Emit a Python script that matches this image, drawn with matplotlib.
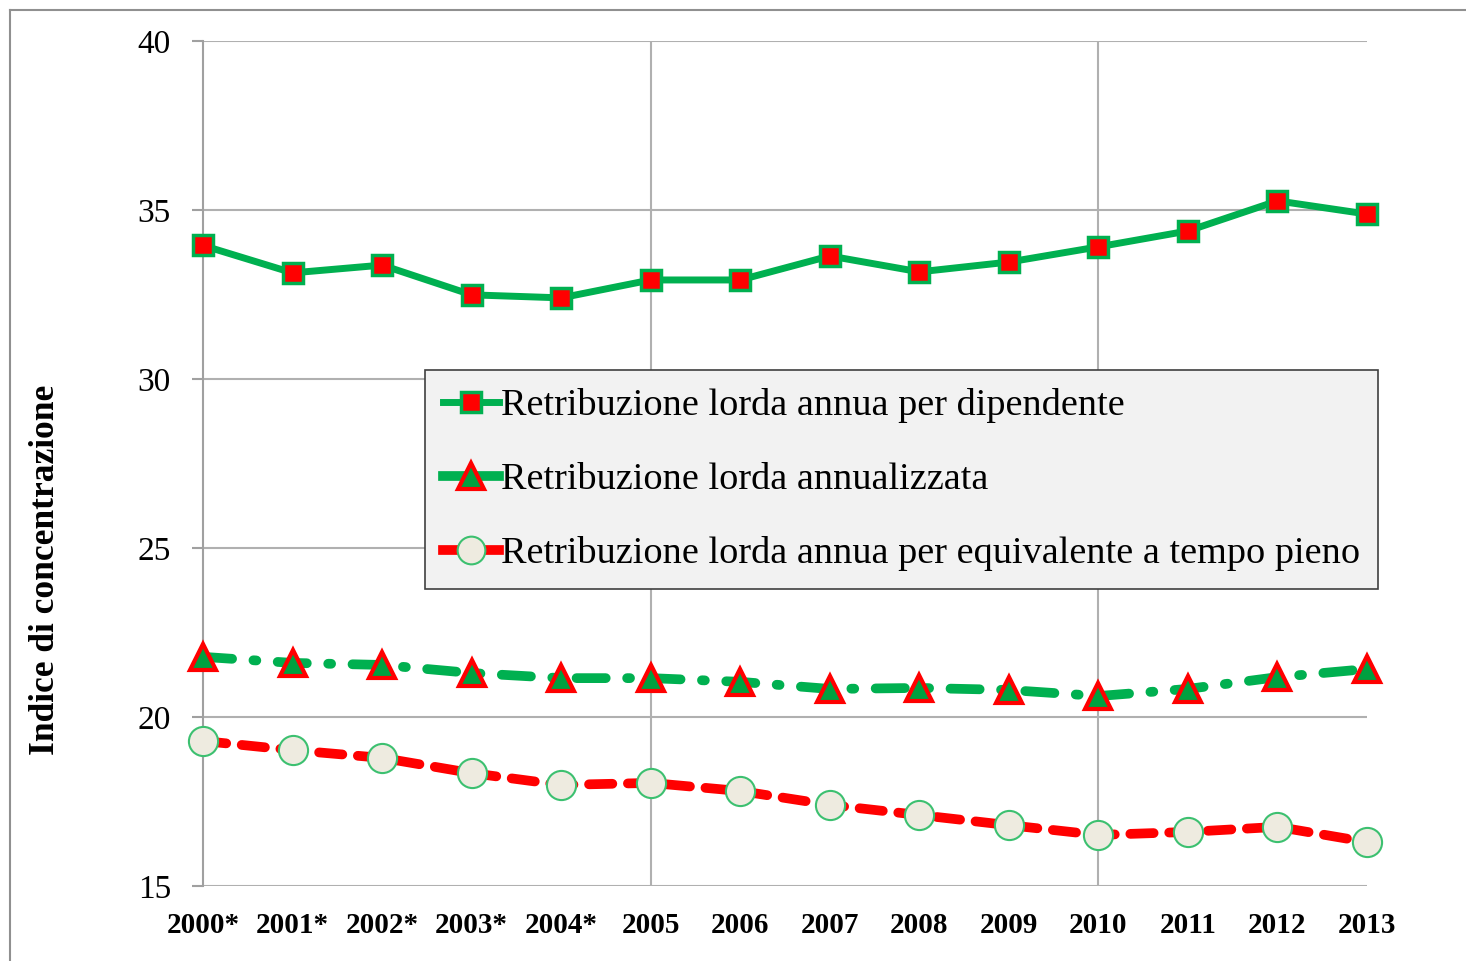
import matplotlib
matplotlib.use("Agg")
import matplotlib.pyplot as plt
from matplotlib.lines import Line2D

plt.rcParams['font.family'] = ['Liberation Serif', 'DejaVu Serif']

# Data
years = ['2000*', '2001*', '2002*', '2003*', '2004*', '2005', '2006',
         '2007', '2008', '2009', '2010', '2011', '2012', '2013']
per_dipendente = [33.95, 33.14, 33.37, 32.49, 32.40, 32.93, 32.93,
                  33.64, 33.17, 33.46, 33.91, 34.38, 35.27, 34.88]
annualizzata = [21.78, 21.60, 21.54, 21.30, 21.15, 21.15, 21.04,
                20.83, 20.86, 20.80, 20.62, 20.83, 21.18, 21.42]
tempo_pieno = [19.29, 19.02, 18.79, 18.34, 17.99, 18.05, 17.81,
               17.40, 17.10, 16.80, 16.51, 16.60, 16.75, 16.30]
labels = ['Retribuzione lorda annua per dipendente',
          'Retribuzione lorda annualizzata',
          'Retribuzione lorda annua per equivalente a tempo pieno']

green = '#00b050'
red = '#ff0000'

W, H = 1466, 961
fig = plt.figure(figsize=(W / 100, H / 100), dpi=100)
ax = fig.add_axes([203 / W, 1 - 886 / H, (1367 - 203) / W, (886 - 41) / H])

x = list(range(len(years)))

ax.plot(x, per_dipendente, color=green, lw=5, marker='s', markersize=15,
        markerfacecolor=red, markeredgecolor=green, markeredgewidth=2.5,
        label=labels[0], zorder=4, clip_on=False)
ax.plot(x, annualizzata, color=green, lw=7, dashes=(3.0, 2.2, 0.3, 2.2),
        dash_capstyle='round', marker='^', markersize=19,
        markerfacecolor='#00a040', markeredgecolor=red, markeredgewidth=3,
        label=labels[1], zorder=4, clip_on=False)
ax.plot(x, tempo_pieno, color=red, lw=7, dashes=(2.4, 1.6),
        dash_capstyle='round', marker='o', markersize=21,
        markerfacecolor='#eeebe0', markeredgecolor='#3cc070', markeredgewidth=1.5,
        label=labels[2], zorder=4, clip_on=False)

ax.set_xlim(0, 13)
ax.set_ylim(15, 40)
ax.set_yticks([15, 20, 25, 30, 35, 40])
ax.set_xticks(x)
ax.set_xticklabels(years, fontsize=21, fontweight='bold')
for t in ax.get_yticklabels():
    t.set_fontsize(24)

# gridlines: horizontal every 5, vertical at 2000, 2005, 2010
ax.grid(axis='y', color='#b0b0b0', lw=1.5)
for xv in [5, 10]:
    ax.axvline(xv, color='#b0b0b0', lw=1.5, zorder=1)
ax.set_axisbelow(True)

for side in ['top', 'right', 'bottom']:
    ax.spines[side].set_visible(False)
ax.spines['left'].set_color('#a0a0a0')
ax.spines['left'].set_linewidth(1.5)
ax.tick_params(axis='y', length=8, width=1.5, color='#a0a0a0', pad=15)
ax.tick_params(axis='x', length=0, pad=19)

ax.set_ylabel('Indice di concentrazione', fontsize=25.5, fontweight='bold')
ax.yaxis.set_label_coords(-0.121, 0.374)

leg = ax.legend(loc='upper left', bbox_to_anchor=(425 / W, 1 - 370 / H),
                bbox_transform=fig.transFigure, fontsize=27.5, frameon=True,
                fancybox=False, framealpha=1, facecolor='#f2f2f2',
                edgecolor='#404040', handlelength=1.45, handletextpad=0.05,
                labelspacing=1.02, borderpad=0.48, borderaxespad=0,
                numpoints=1, markerscale=0.95)
leg.get_frame().set_linewidth(1.2)
for h in leg.legend_handles:
    h.set_linestyle('-')

# outer chart border (left and top edges visible)
fig.add_artist(Line2D([10 / W, 10 / W], [0, 1 - 10 / H], transform=fig.transFigure,
                      color='#909090', lw=1.5))
fig.add_artist(Line2D([10 / W, 1], [1 - 10 / H, 1 - 10 / H], transform=fig.transFigure,
                      color='#909090', lw=1.5))

fig.savefig('out.png', dpi=100)
